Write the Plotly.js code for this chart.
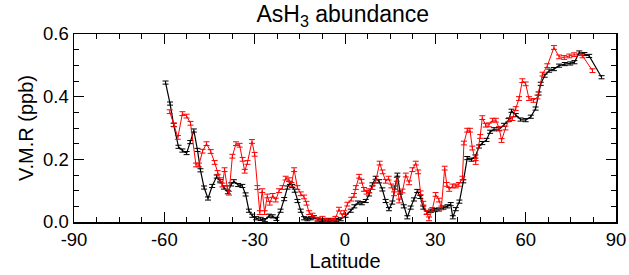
<!DOCTYPE html>
<html>
<head>
<meta charset="utf-8">
<script src="https://cdn.plot.ly/plotly-3.0.1.min.js"></script>
<style>html,body{margin:0;padding:0;background:#fff;}#chart{width:629px;height:275px;}</style>
</head>
<body>
<div id="chart"></div>
<script>
// Black series (latitude, V.M.R ppb)
const blackLat = [-59.6,-58.1,-56.9,-55.3,-54.0,-52.6,-51.4,-50.2,-49.0,-48.0,-46.8,-45.5,-44.1,-42.6,-41.4,-40.2,-38.9,-37.8,-36.9,-35.5,-34.1,-33.0,-31.9,-30.8,-29.5,-28.0,-26.6,-25.2,-24.0,-22.8,-21.4,-20.2,-19.1,-18.3,-17.5,-16.7,-15.8,-14.7,-13.6,-12.5,-11.4,-10.3,-9.0,-7.8,-6.6,-5.4,-4.2,-2.9,-1.4,0.2,1.9,3.1,4.3,5.6,6.9,8.0,9.1,10.2,11.3,12.4,13.5,14.6,15.7,16.6,17.4,18.3,19.5,20.7,21.8,22.9,24.0,25.0,26.0,27.2,28.5,29.8,31.2,32.7,34.0,35.1,35.8,36.8,38.0,39.3,40.6,42.0,43.3,44.5,45.6,47.0,48.2,49.5,51.2,52.8,54.3,55.3,56.7,58.3,60.0,61.7,63.3,64.3,65.0,66.3,67.8,69.4,71.1,73.0,74.8,76.2,77.8,79.5,81.1,85.2];
const blackVmr = [0.445,0.378,0.31,0.24,0.228,0.22,0.255,0.292,0.23,0.165,0.11,0.075,0.115,0.145,0.13,0.11,0.095,0.12,0.13,0.118,0.115,0.088,0.036,0.02,0.012,0.01,0.006,0.02,0.018,0.01,0.036,0.073,0.11,0.125,0.115,0.1,0.067,0.036,0.012,0.009,0.012,0.015,0.008,0.006,0.005,0.006,0.005,0.006,0.009,0.02,0.036,0.05,0.062,0.06,0.067,0.088,0.12,0.141,0.13,0.104,0.067,0.041,0.062,0.11,0.151,0.094,0.05,0.015,0.046,0.072,0.099,0.08,0.046,0.03,0.036,0.038,0.04,0.046,0.05,0.057,0.015,0.041,0.065,0.13,0.204,0.199,0.209,0.241,0.252,0.262,0.288,0.296,0.296,0.31,0.325,0.355,0.341,0.327,0.325,0.336,0.362,0.41,0.441,0.467,0.483,0.488,0.499,0.504,0.506,0.51,0.541,0.536,0.53,0.462];
const blackErr = 0.005;

// Red series
const redLat = [-58.2,-56.8,-55.5,-54.0,-52.6,-51.3,-49.5,-48.5,-47.3,-46.0,-44.6,-43.3,-42.3,-41.5,-40.7,-40.0,-39.1,-38.5,-37.4,-36.2,-35.0,-34.0,-33.3,-32.4,-30.9,-30.0,-29.1,-28.3,-27.5,-26.7,-25.8,-25.0,-24.0,-23.0,-21.9,-20.8,-19.7,-18.6,-17.8,-16.9,-15.8,-14.7,-13.6,-12.8,-11.9,-10.8,-9.2,-7.5,-6.2,-4.2,-3.2,-2.0,-0.9,-0.3,0.8,2.1,3.0,3.6,4.7,5.5,6.3,7.2,8.0,9.1,10.2,11.5,12.5,13.5,14.5,15.4,16.3,17.2,18.0,19.1,20.2,21.3,22.4,23.5,24.3,25.1,26.0,27.1,27.9,29.0,30.1,31.2,32.0,33.1,33.8,34.6,35.7,36.8,37.8,39.0,39.5,40.6,41.5,42.3,43.4,44.9,45.6,46.7,47.8,49.0,50.1,51.2,52.0,53.3,54.5,55.6,56.7,57.8,58.9,60.0,61.1,62.6,63.9,65.6,67.2,69.4,71.1,72.8,74.5,76.1,78.9,82.2];
const redVmr = [0.352,0.31,0.27,0.346,0.338,0.315,0.182,0.182,0.226,0.25,0.225,0.19,0.158,0.135,0.118,0.167,0.11,0.092,0.21,0.25,0.245,0.2,0.162,0.19,0.257,0.216,0.11,0.03,0.1,0.03,0.083,0.06,0.085,0.07,0.1,0.11,0.14,0.135,0.12,0.167,0.11,0.09,0.08,0.06,0.03,0.022,0.009,0.012,0.006,0.006,0.012,0.041,0.02,0.03,0.057,0.073,0.085,0.11,0.146,0.13,0.104,0.095,0.1,0.11,0.13,0.188,0.16,0.13,0.14,0.115,0.09,0.136,0.067,0.099,0.15,0.125,0.167,0.188,0.16,0.093,0.06,0.03,0.01,0.04,0.088,0.07,0.045,0.172,0.12,0.104,0.115,0.115,0.12,0.14,0.252,0.293,0.293,0.236,0.19,0.273,0.333,0.309,0.31,0.325,0.325,0.299,0.26,0.3,0.327,0.33,0.362,0.394,0.451,0.441,0.394,0.388,0.399,0.472,0.499,0.557,0.527,0.525,0.53,0.534,0.53,0.483];
const redErr = 0.006;

const xTicks = [-90,-60,-30,0,30,60,90];
const yTicks = [0.0,0.2,0.4,0.6];
const yTickText = ['0.0','0.2','0.4','0.6'];

const font = 'Liberation Sans, Arial, Helvetica, sans-serif';

const traces = [
  {x: blackLat, y: blackVmr, type: 'scatter', mode: 'lines',
   line: {color: '#000000', width: 1.2},
   error_y: {type: 'constant', value: blackErr, color: '#000000', thickness: 1, width: 3},
   showlegend: false, hoverinfo: 'x+y'},
  {x: redLat, y: redVmr, type: 'scatter', mode: 'lines',
   line: {color: '#ff0000', width: 1},
   error_y: {type: 'constant', value: redErr, color: '#ff0000', thickness: 1, width: 3},
   showlegend: false, hoverinfo: 'x+y'}
];

const layout = {
  width: 629, height: 275,
  margin: {l: 74, r: 13, t: 34, b: 53},
  paper_bgcolor: '#ffffff', plot_bgcolor: '#ffffff',
  font: {family: font, color: '#000000', size: 18},
  title: {text: 'AsH<sub>3</sub> abundance', x: 0.545, xanchor: 'center', y: 0.95, yanchor: 'middle',
          font: {family: font, size: 23, color: '#000000'}},
  xaxis: {
    range: [-90, 90], tickvals: xTicks, ticktext: xTicks.map(String),
    ticks: 'inside', ticklen: 10, tickwidth: 1, tickcolor: '#000',
    minor: {dtick: 7.5, tick0: -90, ticks: 'inside', ticklen: 5, tickwidth: 1, tickcolor: '#000', showgrid: false},
    showline: true, linecolor: '#000', linewidth: 1.5, mirror: 'ticks',
    showgrid: false, zeroline: false,
    tickfont: {family: font, size: 18.5, color: '#000'},
    title: {text: 'Latitude', font: {family: font, size: 20, color: '#000'}, standoff: 1}
  },
  yaxis: {
    range: [0, 0.6], tickvals: yTicks, ticktext: yTickText,
    ticks: 'inside', ticklen: 10, tickwidth: 1, tickcolor: '#000',
    minor: {dtick: 0.05, tick0: 0, ticks: 'inside', ticklen: 5, tickwidth: 1, tickcolor: '#000', showgrid: false},
    showline: true, linecolor: '#000', linewidth: 1.5, mirror: 'ticks',
    showgrid: false, zeroline: false,
    tickfont: {family: font, size: 18.5, color: '#000'},
    title: {text: 'V.M.R (ppb)', font: {family: font, size: 20, color: '#000'}, standoff: 4}
  }
};

Plotly.newPlot('chart', traces, layout, {staticPlot: true, displayModeBar: false});
</script>
</body>
</html>
